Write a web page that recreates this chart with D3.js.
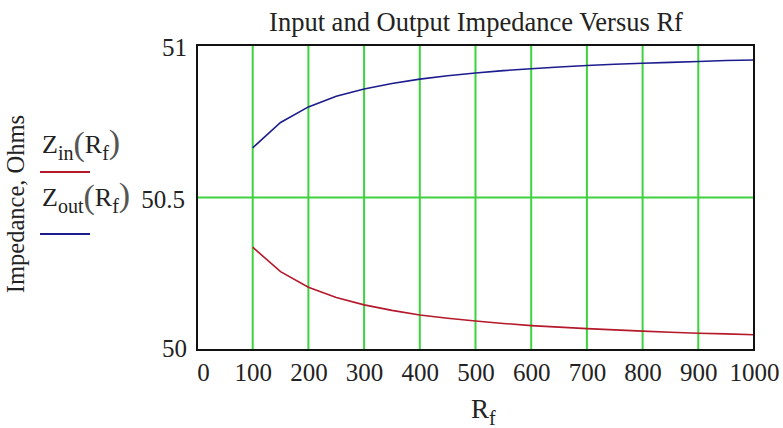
<!DOCTYPE html>
<html>
<head>
<meta charset="utf-8">
<script src="https://cdn.jsdelivr.net/npm/d3@7"></script>
<style>
html,body{margin:0;padding:0;background:#fff;}
svg{display:block;font-family:"Liberation Serif","Times New Roman",serif;}
</style>
</head>
<body>
<svg id="chart" width="783" height="428"></svg>
<script>
const rf = [100,150,200,250,300,350,400,450,500,550,600,650,700,750,800,850,900,950,1000];
const zin = [50.337,50.257,50.206,50.172,50.148,50.130,50.115,50.104,50.095,50.087,50.080,50.075,50.070,50.066,50.062,50.058,50.055,50.053,50.050];
const zout = [50.663,50.746,50.797,50.832,50.856,50.874,50.888,50.899,50.908,50.916,50.922,50.928,50.933,50.937,50.940,50.943,50.946,50.949,50.951];
const xTicks = [0,100,200,300,400,500,600,700,800,900,1000];
const yTicks = [50,50.5,51];
const xGrid = [100,200,300,400,500,600,700,800,900];
const yGrid = [50.5];
const title = "Input and Output Impedance Versus Rf";

const svg = d3.select("#chart");
const L = 197, R = 754, T = 45, B = 350;
const x = d3.scaleLinear().domain([0,1000]).range([L,R]);
const y = d3.scaleLinear().domain([50,51]).range([B,T]);

// grid
svg.append("g").selectAll("line").data(xGrid).join("line")
  .attr("x1",d=>x(d)).attr("x2",d=>x(d)).attr("y1",T).attr("y2",B)
  .attr("stroke","#3fd23f").attr("stroke-width",2);
svg.append("g").selectAll("line").data(yGrid).join("line")
  .attr("x1",L).attr("x2",R).attr("y1",d=>y(d)).attr("y2",d=>y(d))
  .attr("stroke","#3fd23f").attr("stroke-width",2);

// lines
const line = d3.line().x((d,i)=>x(rf[i])).y(d=>y(d));
svg.append("path").datum(zin).attr("d",line).attr("fill","none")
  .attr("stroke","#b5182a").attr("stroke-width",1.6);
svg.append("path").datum(zout).attr("d",line).attr("fill","none")
  .attr("stroke","#1c1c8e").attr("stroke-width",1.6);

// frame
svg.append("rect").attr("x",L).attr("y",T).attr("width",R-L).attr("height",B-T)
  .attr("fill","none").attr("stroke","#111").attr("stroke-width",2);

// axes (labels only)
const FS = 25;
const xAxis = d3.axisBottom(x).tickValues(xTicks).tickSize(0).tickPadding(0).tickFormat(d3.format("d"));
const gx = svg.append("g").attr("transform",`translate(0,${B})`).call(xAxis);
gx.select(".domain").remove();
gx.selectAll("text").attr("font-size",FS).attr("font-family","Liberation Serif").attr("fill","#222")
  .attr("dy",null).attr("y",31);
gx.selectAll(".tick").filter(d=>d===0).select("text").attr("x",6);

const yAxis = d3.axisLeft(y).tickValues(yTicks).tickSize(0).tickPadding(10).tickFormat(d=>d===50.5?"50.5":d3.format("d")(d));
const gy = svg.append("g").attr("transform",`translate(${L},0)`).call(yAxis);
gy.select(".domain").remove();
gy.selectAll("text").attr("font-size",FS).attr("font-family","Liberation Serif").attr("fill","#222");
gy.selectAll(".tick").filter(d=>d===51).select("text").attr("dy","0.4em");
gy.selectAll(".tick").filter(d=>d===50.5).select("text").attr("x",-12).attr("dy","0.4em");
gy.selectAll(".tick").filter(d=>d===50).select("text").attr("dy","0.25em");

// title
svg.append("text").attr("x",476).attr("y",31).attr("text-anchor","middle")
  .attr("font-size",26.5).attr("fill","#222").text(title);

// y label
svg.append("text").attr("transform","translate(24,204) rotate(-90)")
  .attr("text-anchor","middle").attr("font-size",24.5).attr("fill","#222").text("Impedance, Ohms");

// x label
const xl = svg.append("text").attr("x",471).attr("y",418).attr("font-size",27).attr("fill","#222");
xl.append("tspan").text("R");
xl.append("tspan").attr("font-size",20).attr("dy",7).text("f");

// legend
function legendLabel(yb, sub, color, ly){
  const t = svg.append("text").attr("x",42).attr("y",yb).attr("font-size",26).attr("fill","#222");
  t.append("tspan").text("Z");
  t.append("tspan").attr("font-size",20).attr("dy",7).text(sub);
  t.append("tspan").attr("font-size",34).attr("dy",-5).attr("fill","#555").text("(");
  t.append("tspan").attr("font-size",26).attr("dy",-2).text("R");
  t.append("tspan").attr("font-size",20).attr("dy",7).text("f");
  t.append("tspan").attr("font-size",34).attr("dy",-7).attr("fill","#555").text(")");
  svg.append("line").attr("x1",40).attr("x2",90).attr("y1",ly).attr("y2",ly)
    .attr("stroke",color).attr("stroke-width",2);
}
legendLabel(153,"in","#b5182a",172);
legendLabel(206,"out","#1c1c8e",234);
</script>
</body>
</html>
